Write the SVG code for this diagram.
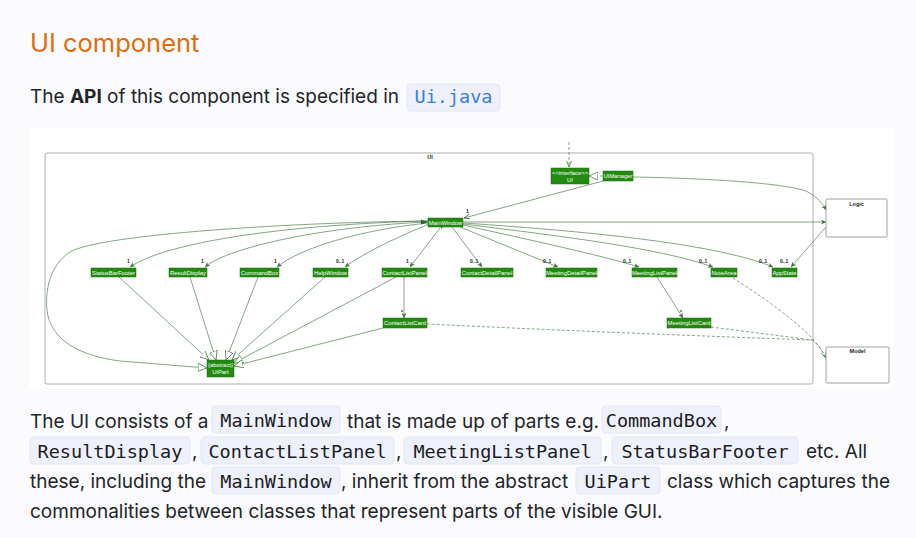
<svg xmlns="http://www.w3.org/2000/svg" width="916" height="538" viewBox="0 0 916 538">
<style>
.body{font-family:Inter,"Noto Sans",sans-serif;font-size:19px;fill:#212529}
.code{font-family:"DejaVu Sans Mono","Liberation Mono",monospace;font-size:18.5px;fill:#1b1b24}
.cbox{fill:#eef0fb;stroke:#e3e6f4;stroke-width:1}
.n{fill:#238a10;stroke:#1b6d0b;stroke-width:0.5}
.nt{font-family:"Liberation Sans",Arial,sans-serif;font-size:5.9px;fill:#fff;text-anchor:middle}
.m{font-family:"Liberation Sans",Arial,sans-serif;font-size:5px;fill:#222;font-weight:bold}
.c{fill:none;stroke:#4f7f4f;stroke-width:0.7}
.d{fill:none;stroke:#4f7f4f;stroke-width:0.7;stroke-dasharray:3,2}
.box{fill:#fff;stroke:#8a8a8a;stroke-width:0.8}
.bl{font-family:"Liberation Sans",Arial,sans-serif;font-size:5.5px;font-weight:bold;fill:#222;text-anchor:middle}
</style>
<defs>
<marker id="ao" viewBox="0 0 6 6" refX="6" refY="3" markerWidth="5" markerHeight="5" markerUnits="userSpaceOnUse" orient="auto"><path d="M0,0 L6,3 L0,6 L1.8,3 Z" fill="#3d6b3d"/></marker>
<marker id="as" viewBox="0 0 6 6" refX="0" refY="3" markerWidth="5" markerHeight="5" markerUnits="userSpaceOnUse" orient="auto-start-reverse"><path d="M0,0 L6,3 L0,6 L1.8,3 Z" fill="#2e5a2e"/></marker>
<marker id="tri" viewBox="0 0 10 10" refX="10" refY="5" markerWidth="9" markerHeight="9" markerUnits="userSpaceOnUse" orient="auto"><path d="M0,0.5 L10,5 L0,9.5 Z" fill="#fff" stroke="#4f7f4f" stroke-width="0.9"/></marker>
<marker id="vo" viewBox="0 0 6 6" refX="6" refY="3" markerWidth="6" markerHeight="6" markerUnits="userSpaceOnUse" orient="auto"><path d="M0,0.5 L6,3 L0,5.5" fill="none" stroke="#3d6b3d" stroke-width="0.8"/></marker>
</defs>
<rect x="0" y="0" width="916" height="538" fill="#fbfbfd"/>
<rect x="29" y="128" width="864" height="260" fill="#fff"/>

<g id="header">
<text x="30" y="52" font-family="Inter,'Noto Sans',sans-serif" font-size="25.5" fill="#e36c0a">UI component</text>
<text class="body" x="30" y="103">The <tspan font-weight="bold">API</tspan> of this component is specified in</text>
<rect class="cbox" x="407" y="84" width="93" height="27" rx="4"/>
<text class="code" x="453.5" y="103" text-anchor="middle" style="fill:#3b7fe0">Ui.java</text>
</g>

<g id="pkg-UI">
<rect x="45" y="153" width="768" height="231" rx="2" fill="none" stroke="#999" stroke-width="0.8"/>
<text class="bl" x="430" y="159">UI</text>
</g>

<g id="connectors">
<path class="d" d="M569,142 L569,167" marker-end="url(#vo)"/>
<path class="d" d="M603,176 L589,176" marker-end="url(#tri)"/>
<path class="c" d="M603,181 L464,218" marker-end="url(#vo)"/>
<path class="c" d="M633,177 C700,178 790,183 808,192 C818,198 823,204 826,210" marker-end="url(#ao)"/>
<path class="c" d="M463,222 L826,222" marker-end="url(#ao)"/>
<path class="c" d="M826,227 L791,267" marker-end="url(#ao)"/>
<path class="c" d="M428,221 C300,224 170,240 130,267" marker-end="url(#ao)"/>
<path class="c" d="M428,222 C330,226 230,246 205,267" marker-end="url(#ao)"/>
<path class="c" d="M428,223 C360,230 300,248 277,267" marker-end="url(#ao)"/>
<path class="c" d="M429,224 C400,236 365,252 345,267" marker-end="url(#ao)"/>
<path class="c" d="M440,228 L410,267" marker-start="url(#as)" marker-end="url(#ao)"/>
<path class="c" d="M452,227 L482,267" marker-end="url(#ao)"/>
<path class="c" d="M460,227 L558,267" marker-end="url(#ao)"/>
<path class="c" d="M463,225 C530,240 600,255 639,267" marker-end="url(#ao)"/>
<path class="c" d="M463,224 C560,236 660,248 713,267" marker-end="url(#ao)"/>
<path class="c" d="M463,223 C600,232 720,245 773,267" marker-end="url(#ao)"/>
<path d="M421,219.5 L428,222 L421,224.5 Z" fill="#2e5a2e"/>
<path class="c" d="M404,277 L404,318" marker-end="url(#ao)"/>
<path class="c" d="M657,277 L683,318" marker-end="url(#ao)"/>
<path class="c" d="M428,221 C300,222 100,234 70,252 C50,265 45,290 47,310 C50,340 80,356 120,361 L207,368" marker-end="url(#tri)"/>
<path class="c" d="M119,277 L209,360" marker-end="url(#tri)"/>
<path class="c" d="M190,277 L216,360" marker-end="url(#tri)"/>
<path class="c" d="M258,277 L226,360" marker-end="url(#tri)"/>
<path class="c" d="M325,277 L232,360" marker-end="url(#tri)"/>
<path class="c" d="M396,277 L234,363" marker-end="url(#tri)"/>
<path class="c" d="M383,328 L234,366" marker-end="url(#tri)"/>
<path class="d" d="M427,324 C550,330 700,336 812,340 C818,344 823,351 826,358" marker-end="url(#vo)"/>
<path class="d" d="M711,327 C750,332 790,337 812,340"/>
<path class="d" d="M733,278 C760,295 795,320 814,340 C818,346 823,352 826,358"/>
<text class="m" x="466" y="213">1</text>
<text class="m" x="127" y="263">1</text>
<text class="m" x="201" y="263">1</text>
<text class="m" x="274" y="263">1</text>
<text class="m" x="336" y="263">0..1</text>
<text class="m" x="406" y="263">1</text>
<text class="m" x="470" y="263">0..1</text>
<text class="m" x="543" y="263">0..1</text>
<text class="m" x="623" y="263">0..1</text>
<text class="m" x="699" y="263">0..1</text>
<text class="m" x="759" y="263">0..1</text>
<text class="m" x="780" y="263">0..1</text>
<text class="m" x="401" y="314">*</text>
<text class="m" x="680" y="314">*</text>
</g>

<g id="n-interface-UI"><rect class="n" x="551" y="168" width="38" height="16"/><text class="nt" x="570" y="175">&lt;&lt;interface&gt;&gt;</text><text class="nt" x="570" y="182">UI</text></g>
<g id="n-UiManager"><rect class="n" x="603" y="171" width="30" height="10"/><text class="nt" x="618" y="178">UiManager</text></g>
<g id="n-MainWindow"><rect class="n" x="428" y="218" width="35" height="9"/><text class="nt" x="445.5" y="224.5">MainWindow</text></g>
<g id="n-StatusBarFooter"><rect class="n" x="91" y="268" width="45" height="9"/><text class="nt" x="113.5" y="274.5">StatusBarFooter</text></g>
<g id="n-ResultDisplay"><rect class="n" x="169" y="268" width="38" height="9"/><text class="nt" x="188" y="274.5">ResultDisplay</text></g>
<g id="n-CommandBox"><rect class="n" x="240" y="268" width="39" height="9"/><text class="nt" x="259.5" y="274.5">CommandBox</text></g>
<g id="n-HelpWindow"><rect class="n" x="313" y="268" width="35" height="9"/><text class="nt" x="330.5" y="274.5">HelpWindow</text></g>
<g id="n-ContactListPanel"><rect class="n" x="382" y="268" width="45" height="9"/><text class="nt" x="404.5" y="274.5">ContactListPanel</text></g>
<g id="n-ContactDetailPanel"><rect class="n" x="461" y="268" width="52" height="9"/><text class="nt" x="487" y="274.5">ContactDetailPanel</text></g>
<g id="n-MeetingDetailPanel"><rect class="n" x="546" y="268" width="51" height="9"/><text class="nt" x="571.5" y="274.5">MeetingDetailPanel</text></g>
<g id="n-MeetingListPanel"><rect class="n" x="632" y="268" width="45" height="9"/><text class="nt" x="654.5" y="274.5">MeetingListPanel</text></g>
<g id="n-NoteArea"><rect class="n" x="711" y="268" width="26" height="9"/><text class="nt" x="724" y="274.5">NoteArea</text></g>
<g id="n-AppState"><rect class="n" x="772" y="268" width="25" height="9"/><text class="nt" x="784.5" y="274.5">AppState</text></g>
<g id="n-ContactListCard"><rect class="n" x="383" y="318" width="44" height="10"/><text class="nt" x="405" y="325">ContactListCard</text></g>
<g id="n-MeetingListCard"><rect class="n" x="667" y="318" width="44" height="10"/><text class="nt" x="689" y="325">MeetingListCard</text></g>
<g id="n-UiPart"><rect class="n" x="207" y="360" width="27" height="17"/><text class="nt" x="220.5" y="367">{abstract}</text><text class="nt" x="220.5" y="374">UiPart</text></g>
<g id="n-Logic"><rect class="box" x="826" y="199" width="61" height="38" rx="1"/><text class="bl" x="856.5" y="206">Logic</text></g>
<g id="n-Model"><rect class="box" x="826" y="347" width="63" height="36" rx="1"/><text class="bl" x="857.5" y="353">Model</text></g>

<g id="paragraph">
<text class="body" x="30" y="428">The UI consists of a</text>
<rect class="cbox" x="212" y="406" width="128" height="27" rx="4"/>
<text class="code" x="276" y="427" text-anchor="middle">MainWindow</text>
<text class="body" x="347" y="428">that is made up of parts e.g.</text>
<rect class="cbox" x="602" y="406" width="119" height="27" rx="4"/>
<text class="code" x="661.5" y="427" text-anchor="middle">CommandBox</text>
<text class="body" x="724" y="428">,</text>

<rect class="cbox" x="30" y="437" width="160" height="27" rx="4"/>
<text class="code" x="110" y="458" text-anchor="middle">ResultDisplay</text>
<text class="body" x="192" y="458">,</text>
<rect class="cbox" x="201" y="437" width="193" height="27" rx="4"/>
<text class="code" x="297.5" y="458" text-anchor="middle">ContactListPanel</text>
<text class="body" x="396" y="458">,</text>
<rect class="cbox" x="404" y="437" width="197" height="27" rx="4"/>
<text class="code" x="502.5" y="458" text-anchor="middle">MeetingListPanel</text>
<text class="body" x="603" y="458">,</text>
<rect class="cbox" x="612" y="437" width="186" height="27" rx="4"/>
<text class="code" x="705" y="458" text-anchor="middle">StatusBarFooter</text>
<text class="body" x="806" y="458">etc. All</text>

<text class="body" x="30" y="488">these, including the</text>
<rect class="cbox" x="212" y="467" width="128" height="27" rx="4"/>
<text class="code" x="276" y="488" text-anchor="middle">MainWindow</text>
<text class="body" x="341" y="488">, inherit from the abstract</text>
<rect class="cbox" x="576" y="467" width="84" height="27" rx="4"/>
<text class="code" x="618" y="488" text-anchor="middle">UiPart</text>
<text class="body" x="667" y="488">class which captures the</text>

<text class="body" x="30" y="518">commonalities between classes that represent parts of the visible GUI.</text>
</g>
</svg>
